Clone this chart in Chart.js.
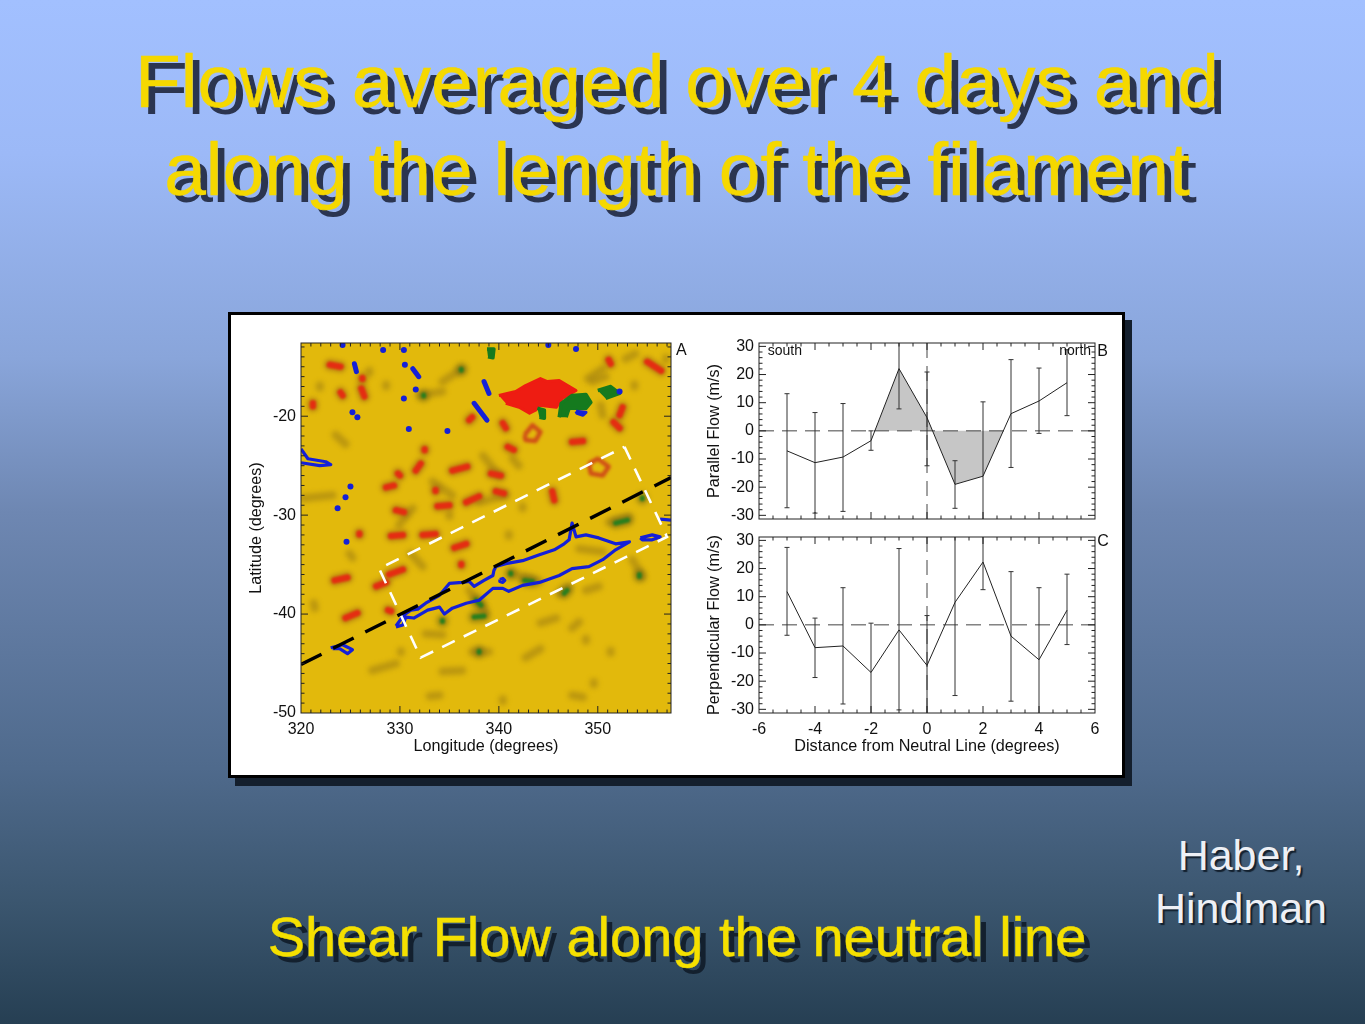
<!DOCTYPE html>
<html>
<head>
<meta charset="utf-8">
<title>Shear Flow along the neutral line</title>
<script src="https://cdn.jsdelivr.net/npm/chart.js@4"></script>
<style>
    html, body { margin: 0; padding: 0; }
    body {
        position: relative; width: 1365px; height: 1024px; overflow: hidden;
        font-family: "Liberation Sans", Arial, sans-serif;
        background: linear-gradient(180deg, #a2c0ff 0%, #9cb9f7 15%, #89a5da 35%, #6e87b2 50%, #4f6a8c 75%, #3b566f 88%, #263f53 100%);
    }
    .line { position: absolute; white-space: nowrap; transform: translateX(-50%); }
    .title { left: 677px; font-size: 75px; line-height: 88px; color: #f5d800; -webkit-text-stroke: 0.4px #f5d800; text-shadow: 7px 7px 0 #2b3550; }
    .caption { left: 677px; top: 905px; font-size: 56px; line-height: 64px; color: #f5e000; -webkit-text-stroke: 0.4px #f5e000; text-shadow: 6px 6px 0 #13202e; }
    .credit { left: 1241px; font-size: 43px; line-height: 53px; color: #eef0f5; text-shadow: 2px 2px 1px #13202e; }
    #panel {
        position: absolute; left: 228px; top: 312px; width: 891px; height: 460px;
        background: #fff; border: 3px solid #000; box-shadow: 7px 8px 0 #141f2d;
    }
    canvas { position: absolute; }
</style>
</head>
<body>
<div class="line title" style="top: 37px">Flows averaged over 4 days and</div>
<div class="line title" style="top: 125px">along the length of the filament</div>
<div id="panel"></div>
<canvas id="mapChart" width="450" height="430" style="left: 240px; top: 335px"></canvas>
<canvas id="parallelChart" width="420" height="190" style="left: 700px; top: 335px"></canvas>
<canvas id="perpendicularChart" width="420" height="231" style="left: 700px; top: 529px"></canvas>
<div class="line caption">Shear Flow along the neutral line</div>
<div class="line credit" style="top: 829px">Haber,</div>
<div class="line credit" style="top: 882px">Hindman</div>

<script>
// Panel A: longitude / latitude map (in degrees)
const longitudeTicks = [320, 330, 340, 350];
const latitudeTicks = [-20, -30, -40, -50];
const longitudeMinorTicks = [321,322,323,324,325,326,327,328,329,331,332,333,334,335,336,337,338,339,341,342,343,344,345,346,347,348,349,351,352,353,354,355,356,357];
const latitudeMinorTicks = [-13,-14,-15,-16,-17,-18,-19,-21,-22,-23,-24,-25,-26,-27,-28,-29,-31,-32,-33,-34,-35,-36,-37,-38,-39,-41,-42,-43,-44,-45,-46,-47,-48,-49];

const neutralLine = [[320, -45.1], [357.4, -26.2]];
const filamentBox = [[352.7, -23.1], [357, -32.2], [332.1, -44.4], [327.9, -35.4], [352.7, -23.1]];

const filamentContour = [[329.6,-41.2],[330.4,-40.1],[331.1,-39.6],[331.8,-39.5],[332.6,-38.9],[334,-38.1],[335,-36.9],[336.3,-36.8],[337,-36.7],[337.5,-37.2],[338.5,-36.6],[339.4,-36.1],[339.5,-35.6],[339.7,-35.2],[340.7,-34.9],[342.4,-34.6],[344.1,-34],[345.6,-33.5],[346.6,-32.9],[347.1,-32.5],[347.4,-30.8],[347.8,-32.2],[348.8,-32],[350.1,-32.3],[351.8,-32.9],[353.2,-32.7],[351.8,-33.5],[350.5,-34.5],[349.1,-35.2],[347.4,-35.4],[346.1,-36.1],[344.1,-36.8],[342.4,-37.1],[341,-37.7],[340.4,-37.4],[339.4,-37.4],[338,-38.6],[336.7,-38.9],[335.3,-39.4],[334.5,-40],[334,-39.3],[332.8,-39.6],[331.4,-40.4],[330.6,-40.3],[330.3,-41.1],[329.6,-41.3]];
const blueContours = [
    filamentContour,
    [[340.1,-36.5],[340.4,-36.4],[340.6,-36.6],[340.4,-36.8],[340.1,-36.7],[340.1,-36.5]],
    [[323,-43.4],[324.2,-43.1],[325.2,-43.6],[324.7,-44],[323.9,-43.5],[323.2,-43.5]],
    [[320,-23.3],[320.7,-24.3],[322.5,-24.6],[323,-24.9],[321.9,-25],[320,-24.7]],
    [[354.3,-32.3],[355.5,-32],[356.3,-32.2],[355.5,-32.5],[354.5,-32.5],[354.3,-32.3]],
    [[356.3,-30.4],[357.4,-30.5]],
    [[347.8,-19.5],[348.8,-19.6],[348.5,-19.9],[347.9,-19.7],[347.8,-19.5]]
];
const blueStreaks = [
    [[325.4,-14.7],[325.6,-15.5]], [[331.3,-15.2],[331.9,-16]], [[338.5,-16.5],[339,-17.7]], [[337.5,-18.7],[338.8,-20.4]]
];
const blueSpotsLon = [324.2, 328.3, 330.4, 330.5, 331.6, 330.4, 325.2, 325.7, 330.9, 334.8, 325, 324.5, 323.7, 324.6, 345, 347.8, 352.2];
const blueSpotsLat = [-12.8, -13.3, -13.3, -14.8, -17.3, -18.2, -19.6, -20.1, -21.3, -21.5, -27.1, -28.2, -29.3, -32.7, -12.8, -13.2, -17.5];

const redPatch = [[340,-17.9],[341.7,-17.5],[342.7,-16.9],[344.2,-16.2],[344.9,-16.5],[346.1,-16.4],[347.8,-17.4],[346.4,-18.2],[345.8,-19.1],[344.1,-18.9],[343.7,-19.4],[343.1,-19.7],[342.05,-19.1],[340.7,-18.7]];
const redRings = [
    [[349.1,-24.8],[350,-24.3],[351.1,-25.1],[350.5,-26],[349.3,-25.8],[349.1,-24.8]],
    [[342.6,-21.9],[343.4,-20.9],[344.2,-21.6],[343.7,-22.5],[342.7,-22.4],[342.6,-21.9]]
];
const greenPatches = [
    [[346.1,-20.1],[346.3,-18.7],[347.4,-17.9],[348.8,-17.8],[349.3,-18.6],[348.8,-19.2],[347.1,-19.2],[346.8,-20.1]],
    [[350,-17.4],[351.3,-17],[352.2,-17.7],[350.8,-18.2]],
    [[343.9,-19.2],[344.6,-19.4],[344.6,-20.2],[344.1,-20.1]],
    [[338.8,-13.2],[339.5,-13.2],[339.4,-14.1],[338.9,-14]]
];
const redStreaks = [
    [[328.6,-27.2],[329.4,-27]], [[331.6,-25.5],[332.1,-24.8]], [[329.6,-29.5],[330.4,-29.7]], [[333.8,-29.1],[335,-29]],
    [[336.7,-28.7],[338,-28.1]], [[339.7,-27.6],[340.5,-27.8]], [[339.2,-25.8],[340.2,-26]], [[332.3,-32],[333.6,-31.9]],
    [[329.1,-32.1],[330.3,-32]], [[335.5,-33.3],[336.7,-32.9]], [[325.9,-31.85],[325.9,-31.95]], [[324,-17.6],[324.2,-17.9]],
    [[326.1,-17.2],[326.4,-18]], [[321.2,-18.7],[321.2,-19]], [[322.9,-14.8],[324,-15]], [[351.1,-14.3],[351.3,-14.7]],
    [[355,-14.5],[356.4,-15.4]], [[352.5,-19.1],[352.2,-19.9]], [[351.6,-20.6],[352.2,-21.2]], [[340.4,-20.7],[340.7,-21.2]],
    [[340.9,-23.1],[341.5,-23.4]], [[337,-20.4],[337.3,-20.1]],
    [[347.4,-22.6],[348.5,-22.5]], [[345.4,-27.6],[345.6,-28.5]], [[333.6,-27.45],[333.6,-27.55]],
    [[335.3,-25.5],[336.8,-25.1]], [[329.8,-25.8],[330,-26]], [[332.5,-23.35],[332.5,-23.45]], [[326.2,-16.15],[326.2,-16.25]],
    [[323.4,-36.6],[324.7,-36.3]], [[327.6,-37.2],[328.6,-36.8]], [[328.9,-36],[330.3,-35.5]], [[324.5,-40.4],[325.7,-39.9]],
    [[328.8,-39.6],[329.1,-39.7]], [[336.2,-34.95],[336.2,-35.05]]
];
const greenStreaks = [
    [[337.7,-38.6],[338.2,-39.1]], [[337.5,-40.3],[338.5,-40.2]], [[334.3,-40.65],[334.3,-40.75]], [[341.2,-35.85],[341.2,-35.95]],
    [[342.6,-36.6],[343.4,-36.7]], [[346.6,-37.9],[346.9,-37.6]], [[354.2,-36],[354.2,-36.2]], [[338,-43.75],[338,-43.85]],
    [[351.8,-30.8],[353,-30.5]], [[354.5,-28.25],[354.5,-28.35]], [[332.4,-17.85],[332.4,-17.95]], [[336.2,-15.25],[336.2,-15.35]]
];
const oliveStreaks = [
    [[332.6,-42],[334.3,-42.1]], [[327.2,-45.7],[329.6,-45]], [[334.3,-45.8],[336.3,-45.7]], [[342.7,-44.4],[344.2,-43.5]],
    [[344.2,-40.9],[345.8,-40.4]], [[347.4,-41.4],[348.1,-40.8]], [[337,-37.6],[338.7,-39.8]], [[341.4,-35.9],[344.1,-36.7]],
    [[346.1,-37.9],[347.1,-37.2]], [[353.5,-34.5],[354.5,-36.2]], [[348.8,-37.6],[350.1,-37.2]], [[337.3,-43.8],[339,-43.8]],
    [[332,-17.9],[334.3,-17.5]], [[334.3,-16.5],[336.3,-15.2]], [[349.5,-16.5],[350.8,-16]], [[350.3,-18.9],[350.5,-19.9]],
    [[352.8,-14.2],[353.8,-13.7]], [[320.2,-28.3],[323.2,-28]], [[351.1,-30.7],[353.2,-30.2]], [[321.3,-38.9],[321.4,-39.4]],
    [[330.1,-43.75],[330.1,-43.85]], [[340.4,-48.6],[340.4,-48.8]], [[333,-48.3],[334,-48.2]], [[349.6,-46.9],[349.6,-47.1]],
    [[347.4,-48.2],[348.5,-48.4]], [[351.3,-43.7],[351.3,-43.9]], [[348.8,-42.5],[348.8,-42.7]], [[324.9,-33.9],[325.2,-34.3]],
    [[331.1,-33.9],[332.3,-35.2]], [[323.5,-21.9],[324.5,-22.8]], [[328.6,-16.8],[328.6,-17]], [[326.9,-15.4],[326.9,-15.6]],
    [[321.9,-16.9],[321.9,-17.1]], [[353.7,-16.8],[353.7,-17]], [[356.9,-14.1],[356.9,-14.3]], [[349,-16.2],[350.5,-15.2]],
    [[341.4,-24.3],[342,-25]], [[338.4,-24],[340,-26]], [[333.3,-26.6],[335.3,-28]], [[338,-28.7],[340.7,-28]],
    [[329.9,-31],[331.3,-29.3]], [[335,-29.9],[335,-30.1]], [[342.4,-29.1],[342.4,-29.3]], [[341,-31.9],[341,-32.1]],
    [[348.1,-33.4],[350.5,-33.7]]
];

// Panels B and C: flow against distance from the neutral line
const distance = [-5, -4, -3, -2, -1, 0, 1, 2, 3, 4, 5];
const parallelFlow = [-7.1, -11.3, -9.3, -3.5, 22.1, 4.7, -19, -16.1, 6.1, 10.6, 17.1];
const parallelLow = [-27.3, -29.2, -28.6, -6.9, 7.8, -12.4, -27.5, -42, -13, -0.9, 5.4];
const parallelHigh = [13.2, 6.5, 9.7, 0, 36, 20.9, -10.6, 10.3, 25.3, 22.3, 28.8];
const perpendicularFlow = [11.8, -8.1, -7.5, -16.9, -1.8, -14.4, 8, 22.3, -4, -12.4, 5.2];
const perpendicularLow = [-3.7, -18.7, -28.1, -36, -30.2, -40, -25.1, 12.5, -27.1, -36, -7];
const perpendicularHigh = [27.5, 2.4, 13.2, 0.6, 27.1, 3.3, 44, 36, 18.9, 13.2, 18];
const shadedDistance = [-1.86, -1, 0, 0.2, 1, 2, 2.73];
const shadedFlow = [0, 22.1, 4.7, 0, -19, -16.1, 0];

const distanceTicks = [-6, -4, -2, 0, 2, 4, 6];
const distanceMinorTicks = [-5.5,-5,-4.5,-3.5,-3,-2.5,-1.5,-1,-0.5,0.5,1,1.5,2.5,3,3.5,4.5,5,5.5];
const flowTicks = [-30, -20, -10, 0, 10, 20, 30];
const flowMinorTicks = [-28,-26,-24,-22,-18,-16,-14,-12,-8,-6,-4,-2,2,4,6,8,12,14,16,18,22,24,26,28];

const mapLabels = [{ text: "A", x: 357.9, y: -13.4, size: 16, align: "left" }];
const parallelLabels = [
    { text: "south", x: -5.69, y: 28.2, size: 14, align: "left" },
    { text: "north", x: 5.86, y: 28.2, size: 14, align: "right" },
    { text: "B", x: 6.08, y: 28.2, size: 16, align: "left" }
];
const perpendicularLabels = [{ text: "C", x: 6.08, y: 29.6, size: 16, align: "left" }];

const FONT = "'Liberation Sans', Arial, sans-serif";
const INK = "#222";

function toPoints(pairs) {
    return pairs.map(p => ({ x: p[0], y: p[1] }));
}

// the map marks are soft edged in the picture, so let a dataset ask for a blur
const softMarksPlugin = {
    id: "softMarks",
    beforeDatasetDraw(chart, args) {
        const blur = chart.data.datasets[args.index].softBlur;
        if (blur) chart.ctx.filter = "blur(" + blur + "px)";
    },
    afterDatasetDraw(chart) {
        chart.ctx.filter = "none";
    }
};

// IDL style frame: box on all four sides with ticks pointing inwards, plus free text
const idlFramePlugin = {
    id: "idlFrame",
    beforeDatasetsDraw(chart, args, opts) {
        if (!opts.background) return;
        const a = chart.chartArea;
        chart.ctx.fillStyle = opts.background;
        chart.ctx.fillRect(a.left, a.top, a.width, a.height);
    },
    afterDatasetsDraw(chart, args, opts) {
        const ctx = chart.ctx, a = chart.chartArea;
        const sx = chart.scales.x, sy = chart.scales.y;
        ctx.save();
        ctx.strokeStyle = INK;
        ctx.lineWidth = 1;
        ctx.strokeRect(a.left, a.top, a.width, a.height);
        ctx.beginPath();
        const tick = (values, len) => {
            values.forEach(v => {
                const px = sx.getPixelForValue(v);
                if (px > a.left && px < a.right) {
                    ctx.moveTo(px, a.bottom); ctx.lineTo(px, a.bottom - len);
                    ctx.moveTo(px, a.top); ctx.lineTo(px, a.top + len);
                }
            });
        };
        const tickY = (values, len) => {
            values.forEach(v => {
                const py = sy.getPixelForValue(v);
                if (py > a.top && py < a.bottom) {
                    ctx.moveTo(a.left, py); ctx.lineTo(a.left + len, py);
                    ctx.moveTo(a.right, py); ctx.lineTo(a.right - len, py);
                }
            });
        };
        tick(opts.xMajor, 7); tick(opts.xMinor, 3.5);
        tickY(opts.yMajor, 7); tickY(opts.yMinor, 3.5);
        ctx.stroke();
        ctx.fillStyle = "#111";
        ctx.textBaseline = "middle";
        opts.labels.forEach(l => {
            ctx.font = l.size + "px " + FONT;
            ctx.textAlign = l.align;
            ctx.fillText(l.text, sx.getPixelForValue(l.x), sy.getPixelForValue(l.y));
        });
        ctx.restore();
    }
};

function axisOptions(cfg) {
    const isX = cfg.axis === "x";
    return {
        type: "linear",
        min: cfg.min,
        max: cfg.max,
        grid: { display: false, drawTicks: false },
        border: { display: false },
        afterBuildTicks: scale => { scale.ticks = cfg.ticks.map(v => ({ value: v })); },
        afterFit: scale => {
            if (isX) scale.height = cfg.size; else scale.width = cfg.size;
            // keep the plot area where the layout padding puts it
            scale.paddingTop = 0; scale.paddingBottom = 0;
            scale.paddingLeft = 0; scale.paddingRight = 0;
        },
        ticks: {
            display: cfg.showTicks !== false,
            autoSkip: false,
            maxRotation: 0,
            padding: isX ? 7 : 5,
            color: "#111",
            font: { family: FONT, size: 16 },
            callback: v => String(v)
        },
        title: {
            display: !!cfg.title,
            text: cfg.title,
            color: "#111",
            font: { family: FONT, size: 16.2 },
            padding: isX ? { top: 0, bottom: cfg.titlePad } : { top: cfg.titlePad, bottom: 0 }
        }
    };
}

function lineSet(points, style) {
    return Object.assign({ data: points, showLine: true, pointRadius: 0, borderWidth: 1, borderColor: "#222", tension: 0 }, style);
}

function makeChart(id, datasets, xAxis, yAxis, frame, padding) {
    return new Chart(document.getElementById(id), {
        type: "scatter",
        data: { datasets: datasets },
        plugins: [softMarksPlugin, idlFramePlugin],
        options: {
            responsive: false,
            animation: false,
            layout: { padding: padding },
            scales: { x: axisOptions(xAxis), y: axisOptions(yAxis) },
            plugins: { legend: { display: false }, tooltip: { enabled: false }, idlFrame: frame }
        }
    });
}

// Panel A (first dataset ends up on top)
const mapDatasets = [];
mapDatasets.push(lineSet(toPoints(neutralLine), { borderColor: "#000", borderWidth: 3.4, borderDash: [23, 13] }));
mapDatasets.push(lineSet(toPoints(filamentBox), { borderColor: "#fff", borderWidth: 2.6, borderDash: [14, 10] }));
blueContours.forEach(c => mapDatasets.push(lineSet(toPoints(c), { borderColor: "#1420d8", borderWidth: 3.2, borderJoinStyle: "round", softBlur: 0.3 })));
blueStreaks.forEach(c => mapDatasets.push(lineSet(toPoints(c), { borderColor: "#1420d8", borderWidth: 5, borderCapStyle: "round", softBlur: 0.3 })));
mapDatasets.push({
    data: blueSpotsLon.map((lon, i) => ({ x: lon, y: blueSpotsLat[i] })),
    pointRadius: 3, pointBackgroundColor: "#1420d8", pointBorderWidth: 0
});
greenPatches.forEach(c => mapDatasets.push(lineSet(toPoints(c), { fill: "shape", backgroundColor: "#157a1e", borderColor: "#157a1e", borderWidth: 3.5, borderJoinStyle: "round", softBlur: 0.6 })));
greenStreaks.forEach(c => mapDatasets.push(lineSet(toPoints(c), { borderColor: "#2a7f1e", borderWidth: 5, borderCapStyle: "round", softBlur: 1 })));
mapDatasets.push(lineSet(toPoints(redPatch), { fill: "shape", backgroundColor: "#ee1c12", borderColor: "#ee1c12", borderWidth: 3, borderJoinStyle: "round", softBlur: 0.6 }));
redRings.forEach(c => mapDatasets.push(lineSet(toPoints(c), { borderColor: "rgba(205,60,25,0.85)", borderWidth: 4.5, borderJoinStyle: "round", softBlur: 1.6 })));
redStreaks.forEach(c => mapDatasets.push(lineSet(toPoints(c), { borderColor: "#e42d12", borderWidth: 6.5, borderCapStyle: "round", softBlur: 0.8 })));
redStreaks.forEach(c => mapDatasets.push(lineSet(toPoints(c), { borderColor: "rgba(150,90,20,0.45)", borderWidth: 12, borderCapStyle: "round", softBlur: 2 })));
greenStreaks.forEach(c => mapDatasets.push(lineSet(toPoints(c), { borderColor: "rgba(110,100,20,0.55)", borderWidth: 12, borderCapStyle: "round", softBlur: 2.5 })));
oliveStreaks.forEach(c => mapDatasets.push(lineSet(toPoints(c), { borderColor: "rgba(130,100,20,0.4)", borderWidth: 8, borderCapStyle: "round", softBlur: 2.5 })));

makeChart("mapChart", mapDatasets,
    { axis: "x", min: 320, max: 357.4, ticks: longitudeTicks, size: 52, title: "Longitude (degrees)", titlePad: 9 },
    { axis: "y", min: -50, max: -12.6, ticks: latitudeTicks, size: 61, title: "Latitude (degrees)", titlePad: 7 },
    { background: "#e2b90c", xMajor: longitudeTicks, xMinor: longitudeMinorTicks, yMajor: latitudeTicks, yMinor: latitudeMinorTicks, labels: mapLabels },
    { top: 8, right: 19, left: 0, bottom: 0 });

// Panels B and C share everything except the series
function flowDatasets(flow, low, high) {
    const sets = [lineSet(distance.map((d, i) => ({ x: d, y: flow[i] })), { borderColor: "#222" })];
    distance.forEach((d, i) => {
        sets.push(lineSet([{ x: d, y: low[i] }, { x: d, y: high[i] }], {
            borderColor: "#333", pointStyle: "line", pointRadius: 2.5, pointBorderColor: "#333", pointBorderWidth: 1
        }));
    });
    sets.push(lineSet([{ x: -6, y: 0 }, { x: 6, y: 0 }], { borderColor: "#444", borderDash: [15, 8] }));
    sets.push(lineSet([{ x: 0, y: -31.3 }, { x: 0, y: 31.2 }], { borderColor: "#444", borderDash: [15, 8] }));
    return sets;
}

const parallelSets = flowDatasets(parallelFlow, parallelLow, parallelHigh);
parallelSets.push(lineSet(shadedDistance.map((d, i) => ({ x: d, y: shadedFlow[i] })), {
    fill: "origin", backgroundColor: "#c6c6c6", borderWidth: 0
}));

makeChart("parallelChart", parallelSets,
    { axis: "x", min: -6, max: 6, ticks: distanceTicks, size: 1, showTicks: false },
    { axis: "y", min: -31.3, max: 31.2, ticks: flowTicks, size: 59, title: "Parallel Flow (m/s)", titlePad: 5 },
    { xMajor: distanceTicks, xMinor: distanceMinorTicks, yMajor: flowTicks, yMinor: flowMinorTicks, labels: parallelLabels },
    { top: 8, right: 25, left: 0, bottom: 5 });

makeChart("perpendicularChart", flowDatasets(perpendicularFlow, perpendicularLow, perpendicularHigh),
    { axis: "x", min: -6, max: 6, ticks: distanceTicks, size: 47, title: "Distance from Neutral Line (degrees)", titlePad: 4 },
    { axis: "y", min: -31.3, max: 31.2, ticks: flowTicks, size: 59, title: "Perpendicular Flow (m/s)", titlePad: 5 },
    { xMajor: distanceTicks, xMinor: distanceMinorTicks, yMajor: flowTicks, yMinor: flowMinorTicks, labels: perpendicularLabels },
    { top: 8, right: 25, left: 0, bottom: 0 });
</script>
</body>
</html>
